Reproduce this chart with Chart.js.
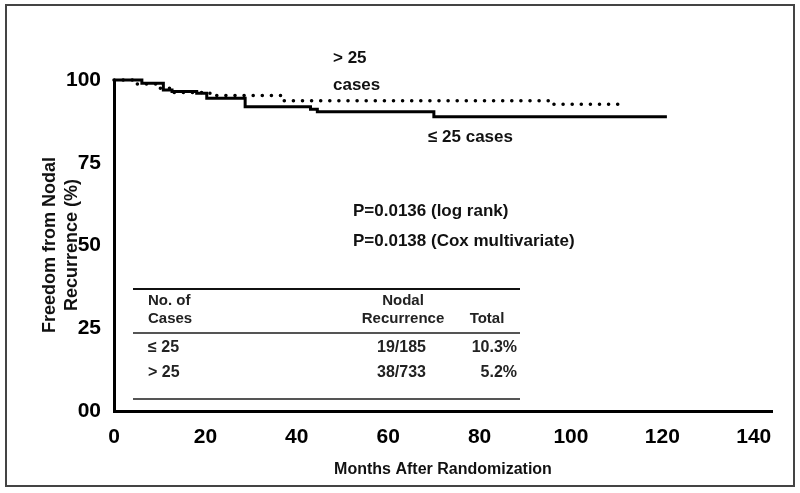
<!DOCTYPE html>
<html>
<head>
<meta charset="utf-8">
<script src="https://cdn.jsdelivr.net/npm/chart.js@4/dist/chart.umd.min.js"></script>
<style>
  html, body { margin: 0; padding: 0; background: #fff; }
  #wrap { position: relative; width: 800px; height: 493px; }
</style>
</head>
<body>
<div id="wrap"><canvas id="km"></canvas></div>
<script>
// Kaplan-Meier curves: freedom from nodal recurrence by number of cases

const monthsLE25 = [0, 6.1, 10.8, 12.7, 18.1, 20.3, 28.7, 43, 44.5, 70, 121];
const survLE25   = [100, 99.0, 97.0, 96.5, 96.0, 94.5, 91.9, 91.2, 90.4, 88.9, 88.9];

const monthsGT25 = [0, 4.2, 9.7, 13, 21, 37, 96, 111];
const survGT25   = [100, 98.8, 97.5, 96.2, 95.3, 93.7, 92.7, 92.7];

const xTicks = [0, 20, 40, 60, 80, 100, 120, 140];
const yTicks = [0, 25, 50, 75, 100];

const tableHead = [['No. of', 'Cases'], ['Nodal', 'Recurrence'], ['', 'Total']];
const tableGroups = ['\u2264 25', '> 25'];
const tableRecur = ['19/185', '38/733'];
const tableTotal = ['10.3%', '5.2%'];

const pts = (xs, ys) => xs.map((x, i) => ({x, y: ys[i]}));
const FONT = '"Liberation Sans", Arial, sans-serif';

const overlay = {
  id: 'overlay',
  beforeDraw(chart) {
    const ctx = chart.ctx;
    ctx.save();
    ctx.fillStyle = '#fff';
    ctx.fillRect(0, 0, chart.width, chart.height);
    ctx.strokeStyle = '#444';
    ctx.lineWidth = 2;
    ctx.strokeRect(6, 5, 788, 481);
    ctx.restore();
  },
  afterDraw(chart) {
    const ctx = chart.ctx;
    ctx.save();
    ctx.fillStyle = '#111';
    ctx.textBaseline = 'middle';

    // axis titles
    ctx.font = 'bold 16px ' + FONT;
    ctx.textAlign = 'center';
    ctx.fillText('Months After Randomization', 443, 470);
    ctx.save();
    ctx.translate(50, 245);
    ctx.rotate(-Math.PI / 2);
    ctx.font = 'bold 18px ' + FONT;
    ctx.fillText('Freedom from Nodal', 0, 0);
    ctx.fillText('Recurrence (%)', 0, 22);
    ctx.restore();

    // curve labels and p values
    ctx.font = 'bold 17px ' + FONT;
    ctx.textAlign = 'left';
    ctx.fillText('> 25', 333, 58);
    ctx.fillText('cases', 333, 85);
    ctx.fillText('\u2264 25 cases', 428, 137);
    ctx.fillText('P=0.0136 (log rank)', 353, 211);
    ctx.fillText('P=0.0138 (Cox multivariate)', 353, 241);

    // table
    ctx.strokeStyle = '#111';
    ctx.lineWidth = 2;
    ctx.beginPath(); ctx.moveTo(133, 289); ctx.lineTo(520, 289); ctx.stroke();
    ctx.strokeStyle = '#555';
    ctx.beginPath(); ctx.moveTo(133, 333); ctx.lineTo(520, 333); ctx.stroke();
    ctx.beginPath(); ctx.moveTo(133, 399); ctx.lineTo(520, 399); ctx.stroke();

    ctx.fillStyle = '#222';
    ctx.font = 'bold 15px ' + FONT;
    ctx.textAlign = 'left';
    ctx.fillText(tableHead[0][0], 148, 301);
    ctx.fillText(tableHead[0][1], 148, 319);
    ctx.textAlign = 'center';
    ctx.fillText(tableHead[1][0], 403, 301);
    ctx.fillText(tableHead[1][1], 403, 319);
    ctx.fillText(tableHead[2][1], 487, 319);

    const rowY = [348, 373];
    ctx.font = 'bold 16px ' + FONT;
    rowY.forEach((y, i) => {
      ctx.textAlign = 'left';
      ctx.fillText(tableGroups[i], 148, y);
      ctx.textAlign = 'right';
      ctx.fillText(tableRecur[i], 426, y);
      ctx.fillText(tableTotal[i], 517, y);
    });
    ctx.restore();
  }
};

new Chart(document.getElementById('km'), {
  type: 'line',
  data: {
    datasets: [
      {
        label: '\u2264 25 cases',
        data: pts(monthsLE25, survLE25),
        stepped: true,
        borderColor: '#000',
        borderWidth: 3,
        pointRadius: 0,
        fill: false,
        clip: false
      },
      {
        label: '> 25 cases',
        data: pts(monthsGT25, survGT25),
        stepped: true,
        borderColor: '#000',
        borderWidth: 3.5,
        borderDash: [0.1, 9],
        borderCapStyle: 'round',
        pointRadius: 0,
        fill: false,
        clip: false
      }
    ]
  },
  options: {
    responsive: true,
    maintainAspectRatio: false,
    animation: false,
    layout: { padding: { top: 80, right: 28, left: 0, bottom: 0 } },
    plugins: { legend: { display: false }, tooltip: { enabled: false } },
    scales: {
      x: {
        type: 'linear',
        min: 0, max: 144,
        afterFit: s => { s.height = 82; },
        afterBuildTicks: s => { s.ticks = xTicks.map(v => ({value: v})); },
        grid: { display: false, drawTicks: false },
        border: { display: true, color: '#000', width: 3 },
        ticks: { color: '#000', padding: 14, font: { family: FONT, size: 21, weight: 'bold' } }
      },
      y: {
        min: 0, max: 100,
        afterFit: s => { s.width = 114; },
        afterBuildTicks: s => { s.ticks = yTicks.map(v => ({value: v})); },
        grid: { display: false, drawTicks: false },
        border: { display: true, color: '#000', width: 3 },
        ticks: {
          color: '#000', padding: 13,
          font: { family: FONT, size: 21, weight: 'bold' },
          callback: v => v === 0 ? '00' : String(v)
        }
      }
    }
  },
  plugins: [overlay]
});
</script>
</body>
</html>
